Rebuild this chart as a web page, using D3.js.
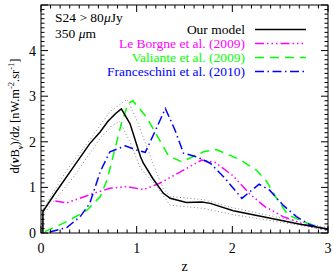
<!DOCTYPE html>
<html><head><meta charset="utf-8">
<script src="https://cdn.jsdelivr.net/npm/d3@7"></script>
<style>body{margin:0;background:#fff}svg{display:block}</style>
</head><body><svg id="c" width="334" height="275" font-family="'Liberation Serif', 'Times New Roman', Times, serif"></svg>
<script>
const xTicks=[0,1,2,3], yTicks=[0,1,2,3,4];
const modelZ=[0.02,0.02,0.16,0.34,0.51,0.62,0.70,0.78,0.84,0.93,1.04,1.07,1.17,1.28,1.35,1.52,1.68,1.77,2.01,2.36,2.71,3.0];
const modelV=[0,0.47,0.91,1.45,1.96,2.22,2.45,2.62,2.72,2.40,1.67,1.53,1.19,0.87,0.76,0.67,0.68,0.65,0.49,0.34,0.19,0.09];
const upperZ=[0.02,0.02,0.27,0.51,0.72,0.90,1.00,1.14,1.21,1.28,1.35,1.70,2.01,2.53,3.0];
const upperV=[0,0.52,1.38,2.04,2.66,2.93,2.48,1.70,1.31,0.97,0.80,0.73,0.55,0.32,0.12];
const lowerZ=[0.02,0.02,0.34,0.62,0.74,0.82,0.93,1.04,1.21,1.35,1.70,2.01,2.53,3.0];
const lowerV=[0,0.40,1.23,2.08,2.35,2.45,2.00,1.42,1.02,0.61,0.54,0.40,0.23,0.06];
const lbZ=[0.15,0.27,0.55,0.72,0.90,1.07,1.24,1.49,1.68,1.82,2.01,2.18,2.34,2.53,2.75,3.0];
const lbV=[0.70,0.66,0.87,0.98,1.02,0.95,1.09,1.38,1.60,1.55,1.25,0.86,0.58,0.36,0.19,0.05];
const vaZ=[0.04,0.27,0.48,0.62,0.69,0.77,0.84,0.91,0.96,1.10,1.19,1.33,1.47,1.70,1.83,2.07,2.25,2.36,2.45,2.58,2.74,3.0];
const vaV=[0.03,0.25,0.50,0.80,1.16,1.82,2.40,2.84,2.90,2.55,2.22,1.70,1.56,1.78,1.83,1.62,1.38,1.13,0.80,0.40,0.25,0.06];
const frZ=[0.09,0.27,0.41,0.51,0.62,0.72,0.88,1.00,1.09,1.19,1.30,1.40,1.49,1.63,1.77,1.91,2.10,2.28,2.39,2.53,2.67,2.81,3.0];
const frV=[0.02,0.12,0.36,0.65,1.35,1.78,1.91,1.82,1.77,2.22,2.73,2.26,1.75,1.67,1.53,1.23,0.76,1.07,0.94,0.61,0.36,0.18,0.07];
const legendLabels=["Our model","Le Borgne et al. (2009)","Valiante et al. (2009)","Franceschini et al. (2010)"];

const FF="'Liberation Serif', 'Times New Roman', Times, serif";
const svg=d3.select("#c");
const L=41,R=328,T=5,B=233;
const x=d3.scaleLinear().domain([0,3]).range([L,R]);
const y=d3.scaleLinear().domain([0,5]).range([B,T]);
const line=(zs,vs)=>d3.line().x(d=>x(d[0])).y(d=>y(d[1]))(zs.map((z,i)=>[z,vs[i]]));
svg.append("clipPath").attr("id","pc").append("rect").attr("x",L).attr("y",T).attr("width",R-L).attr("height",B-T);
const pl=svg.append("g").attr("clip-path","url(#pc)");
pl.append("path").attr("d",line(upperZ,upperV)).attr("fill","none").attr("stroke","#888").attr("stroke-width",1).attr("stroke-dasharray","1,2.5");
pl.append("path").attr("d",line(lowerZ,lowerV)).attr("fill","none").attr("stroke","#888").attr("stroke-width",1).attr("stroke-dasharray","1,2.5");
const styles=[
 {c:"#000",d:null},
 {c:"#ff00ff",d:"9,3,1.5,3,1.5,3,1.5,3"},
 {c:"#00ff00",d:"9,6"},
 {c:"#0000ff",d:"9,3.5,1.5,3.5"}];
pl.append("path").attr("d",line(lbZ,lbV)).attr("fill","none").attr("stroke",styles[1].c).attr("stroke-width",1.5).attr("stroke-dasharray",styles[1].d);
pl.append("path").attr("d",line(vaZ,vaV)).attr("fill","none").attr("stroke",styles[2].c).attr("stroke-width",1.5).attr("stroke-dasharray",styles[2].d);
pl.append("path").attr("d",line(frZ,frV)).attr("fill","none").attr("stroke",styles[3].c).attr("stroke-width",1.5).attr("stroke-dasharray",styles[3].d);
pl.append("path").attr("d",line(modelZ,modelV)).attr("fill","none").attr("stroke","#000").attr("stroke-width",1.5);

svg.append("rect").attr("x",L).attr("y",T).attr("width",R-L).attr("height",B-T).attr("fill","none").attr("stroke","#000").attr("stroke-width",1);
const minorX=d3.range(0,3.001,0.1), minorY=d3.range(0,5.001,0.1);
const tk=svg.append("g").attr("stroke","#000").attr("stroke-width",1);
minorX.forEach(v=>{const major=Math.abs(v-Math.round(v))<1e-6;const len=major?7:3.5;
 tk.append("line").attr("x1",x(v)).attr("x2",x(v)).attr("y1",B).attr("y2",B-len);
 tk.append("line").attr("x1",x(v)).attr("x2",x(v)).attr("y1",T).attr("y2",T+len);});
minorY.forEach(v=>{const major=Math.abs(v-Math.round(v))<1e-6;const len=major?7:3.5;
 tk.append("line").attr("y1",y(v)).attr("y2",y(v)).attr("x1",L).attr("x2",L+len);
 tk.append("line").attr("y1",y(v)).attr("y2",y(v)).attr("x1",R).attr("x2",R-len);});
const txt=(sel)=>sel.append("text").attr("font-family",FF);
xTicks.forEach(v=>txt(svg).attr("x",x(v)).attr("y",253).attr("text-anchor","middle").attr("font-size",14).text(v));
yTicks.forEach(v=>txt(svg).attr("x",36).attr("y",y(v)+5).attr("text-anchor","end").attr("font-size",14).text(v));
txt(svg).attr("x",(L+R)/2).attr("y",271).attr("text-anchor","middle").attr("font-size",14).text("z");
const yl=txt(svg).attr("transform","translate(19,116) rotate(-90)").attr("text-anchor","middle").attr("font-size",12.5);
yl.append("tspan").text("d(");
yl.append("tspan").attr("font-style","italic").attr("font-weight","bold").text("ν");
yl.append("tspan").text("B");
yl.append("tspan").attr("font-style","italic").attr("font-weight","bold").attr("font-size",8.5).attr("dy",4).text("ν");
yl.append("tspan").attr("dy",-4).text(")/dz [nW.m");
yl.append("tspan").attr("font-size",8.5).attr("dy",-5).text("-2");
yl.append("tspan").attr("dy",5).text(".sr");
yl.append("tspan").attr("font-size",8.5).attr("dy",-5).text("-1");
yl.append("tspan").attr("dy",5).text("]");
const t1=txt(svg).attr("x",55).attr("y",22).attr("font-size",13.5);
t1.append("tspan").text("S24 > 80");
t1.append("tspan").attr("font-style","italic").text("μ");
t1.append("tspan").text("Jy");
const t2=txt(svg).attr("x",55).attr("y",38).attr("font-size",13.5);
t2.append("tspan").text("350 ");
t2.append("tspan").attr("font-style","italic").text("μ");
t2.append("tspan").text("m");
const rows=[29.5,43.5,57.5,71.5];
legendLabels.forEach((lab,i)=>{
 txt(svg).attr("x",245).attr("y",rows[i]+4.5).attr("text-anchor","end").attr("font-size",13.5).attr("fill",styles[i].c).text(lab);
 svg.append("line").attr("x1",255).attr("x2",306).attr("y1",rows[i]).attr("y2",rows[i]).attr("stroke",styles[i].c).attr("stroke-width",1.5).attr("stroke-dasharray",styles[i].d);
});
</script></body></html>
